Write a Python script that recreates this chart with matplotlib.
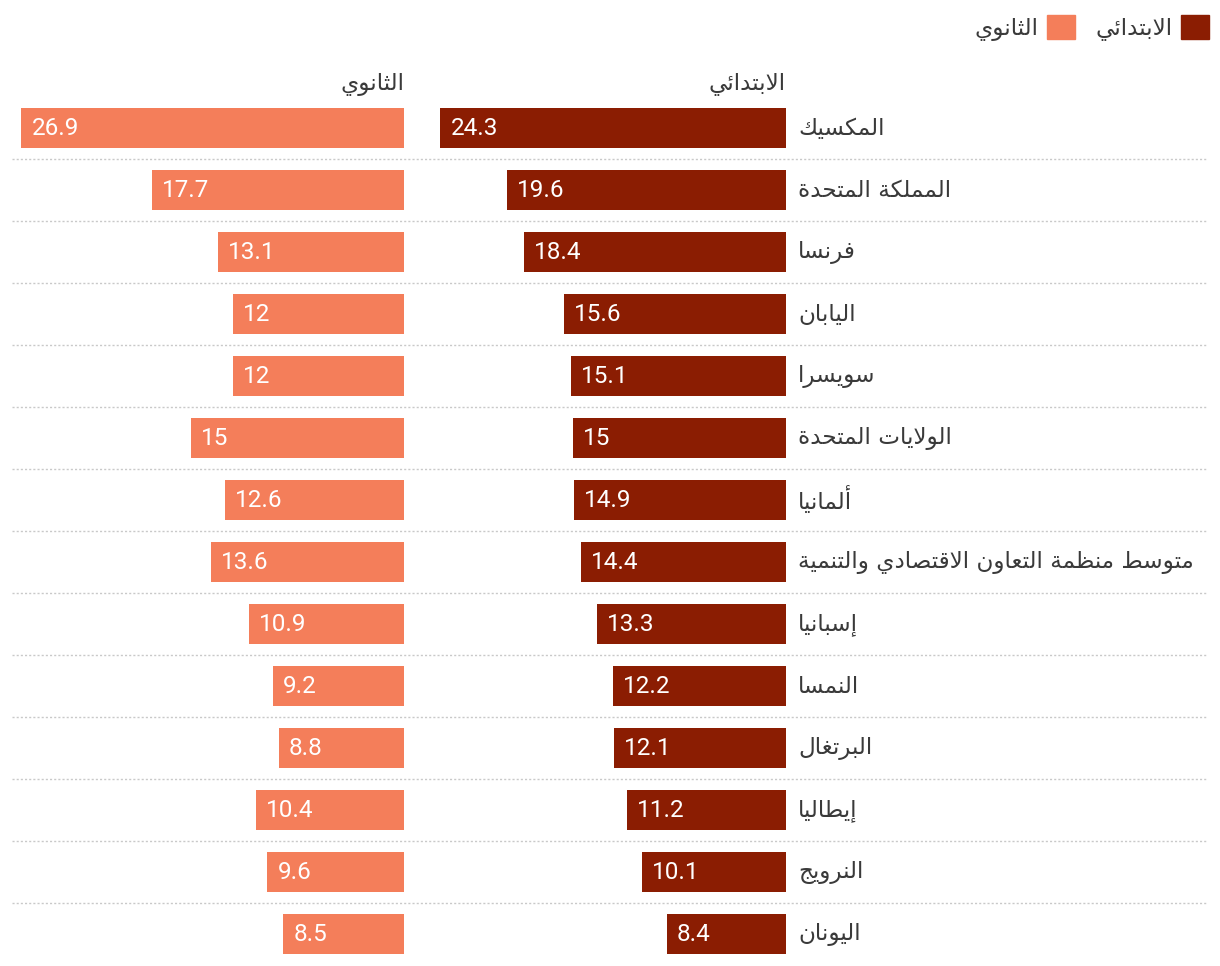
import numpy as np
import matplotlib
matplotlib.use('Agg')
import matplotlib.pyplot as plt
from matplotlib.patches import Patch

# data
countries = ['المكسيك', 'المملكة المتحدة', 'فرنسا', 'اليابان', 'سويسرا',
             'الولايات المتحدة', 'ألمانيا', 'متوسط منظمة التعاون الاقتصادي والتنمية',
             'إسبانيا', 'النمسا', 'البرتغال', 'إيطاليا', 'النرويج', 'اليونان']
primary = [24.3, 19.6, 18.4, 15.6, 15.1, 15, 14.9, 14.4, 13.3, 12.2, 12.1, 11.2, 10.1, 8.4]
secondary = [26.9, 17.7, 13.1, 12, 12, 15, 12.6, 13.6, 10.9, 9.2, 8.8, 10.4, 9.6, 8.5]
primary_name = 'الابتدائي'
secondary_name = 'الثانوي'

c_pri = '#8b1d02'
c_sec = '#f47e5a'
c_txt = '#3a3a3a'

# matplotlib has no arabic shaping, so do a small one by hand
FORMS = {
    '\u0621': (0xFE80, 1), '\u0622': (0xFE81, 2), '\u0623': (0xFE83, 2), '\u0624': (0xFE85, 2),
    '\u0625': (0xFE87, 2), '\u0626': (0xFE89, 4), '\u0627': (0xFE8D, 2), '\u0628': (0xFE8F, 4),
    '\u0629': (0xFE93, 2), '\u062A': (0xFE95, 4), '\u062B': (0xFE99, 4), '\u062C': (0xFE9D, 4),
    '\u062D': (0xFEA1, 4), '\u062E': (0xFEA5, 4), '\u062F': (0xFEA9, 2), '\u0630': (0xFEAB, 2),
    '\u0631': (0xFEAD, 2), '\u0632': (0xFEAF, 2), '\u0633': (0xFEB1, 4), '\u0634': (0xFEB5, 4),
    '\u0635': (0xFEB9, 4), '\u0636': (0xFEBD, 4), '\u0637': (0xFEC1, 4), '\u0638': (0xFEC5, 4),
    '\u0639': (0xFEC9, 4), '\u063A': (0xFECD, 4), '\u0641': (0xFED1, 4), '\u0642': (0xFED5, 4),
    '\u0643': (0xFED9, 4), '\u0644': (0xFEDD, 4), '\u0645': (0xFEE1, 4), '\u0646': (0xFEE5, 4),
    '\u0647': (0xFEE9, 4), '\u0648': (0xFEED, 2), '\u0649': (0xFEEF, 2), '\u064A': (0xFEF1, 4),
}
LAM_ALEF = {'\u0622': 0xFEF5, '\u0623': 0xFEF7, '\u0625': 0xFEF9, '\u0627': 0xFEFB}


def shape(text):
    units = []
    i = 0
    while i < len(text):
        c = text[i]
        if c == '\u0644' and i + 1 < len(text) and text[i + 1] in LAM_ALEF:
            units.append((LAM_ALEF[text[i + 1]], 2, None))
            i += 2
            continue
        if c in FORMS:
            base, n = FORMS[c]
            units.append((base, n, None))
        else:
            units.append((0, 0, c))
        i += 1
    out = []
    for k, (base, n, raw) in enumerate(units):
        if n == 0:
            out.append(raw)
            continue
        prev_j = k > 0 and units[k - 1][1] == 4 and n >= 2
        next_j = k + 1 < len(units) and n == 4 and units[k + 1][1] >= 2
        if n == 1:
            idx = 0
        elif n == 2:
            idx = 1 if prev_j else 0
        else:
            idx = {(False, False): 0, (True, False): 1, (False, True): 2, (True, True): 3}[(prev_j, next_j)]
        out.append(chr(base + idx))
    return ''.join(out)[::-1]


AR = ['DejaVu Sans']
NUM = ['Roboto', 'DejaVu Sans']
ar_size = 16.7

W, H = 1220, 966
fig = plt.figure(figsize=(W / 100, H / 100), dpi=100)

scale = 14.22  # px per unit
top_px, bot_px = 97, 965
y_b = (H - bot_px) / H
y_h = (bot_px - top_px) / H
n = len(countries)
ypos = np.arange(n)

# background axes for separators
ax_bg = fig.add_axes([12 / W, y_b, (1208 - 12) / W, y_h])
ax_bg.set_xlim(0, 1)
ax_bg.set_ylim(n - 0.5, -0.5)
for k in range(n - 1):
    ax_bg.axhline(k + 0.5, color='#c9c9c9', lw=1, ls=(0, (1.5, 1.5)))
ax_bg.axis('off')

pri_l, pri_r = 420, 786
sec_l, sec_r = 10, 404
ax_p = fig.add_axes([pri_l / W, y_b, (pri_r - pri_l) / W, y_h])
ax_s = fig.add_axes([sec_l / W, y_b, (sec_r - sec_l) / W, y_h])
for ax, vals, col, l, r, name in [(ax_p, primary, c_pri, pri_l, pri_r, primary_name),
                                  (ax_s, secondary, c_sec, sec_l, sec_r, secondary_name)]:
    ax.barh(ypos, vals, height=40 / 62, color=col)
    ax.set_xlim((r - l) / scale, 0)
    ax.set_ylim(n - 0.5, -0.5)
    ax.axis('off')
    for y, v in zip(ypos, vals):
        ax.annotate(f'{v:g}', xy=(v, y), xytext=(10, 0), textcoords='offset pixels',
                    ha='left', va='center', color='white', fontsize=17.5, family=NUM)
    ax.annotate(shape(name), xy=(0, -0.5), xytext=(0, 13), textcoords='offset pixels',
                ha='right', va='center', color=c_txt, fontsize=ar_size, family=AR,
                annotation_clip=False)

for y, name in zip(ypos, countries):
    ax_p.annotate(shape(name), xy=(0, y), xytext=(12, 0), textcoords='offset pixels',
                  ha='left', va='center', color=c_txt, fontsize=ar_size, family=AR,
                  annotation_clip=False)

handles = [Patch(color=c_sec, label=shape(secondary_name)),
           Patch(color=c_pri, label=shape(primary_name))]
fig.legend(handles=handles, loc='upper right', bbox_to_anchor=(1218 / W, 1 - 6 / H),
           ncols=2, markerfirst=False, frameon=False, handlelength=1.2, handleheight=1.2,
           handletextpad=0.35, columnspacing=0.9, borderaxespad=0,
           prop={'family': AR, 'size': ar_size}, labelcolor=c_txt)

fig.savefig('out.png', dpi=100)
